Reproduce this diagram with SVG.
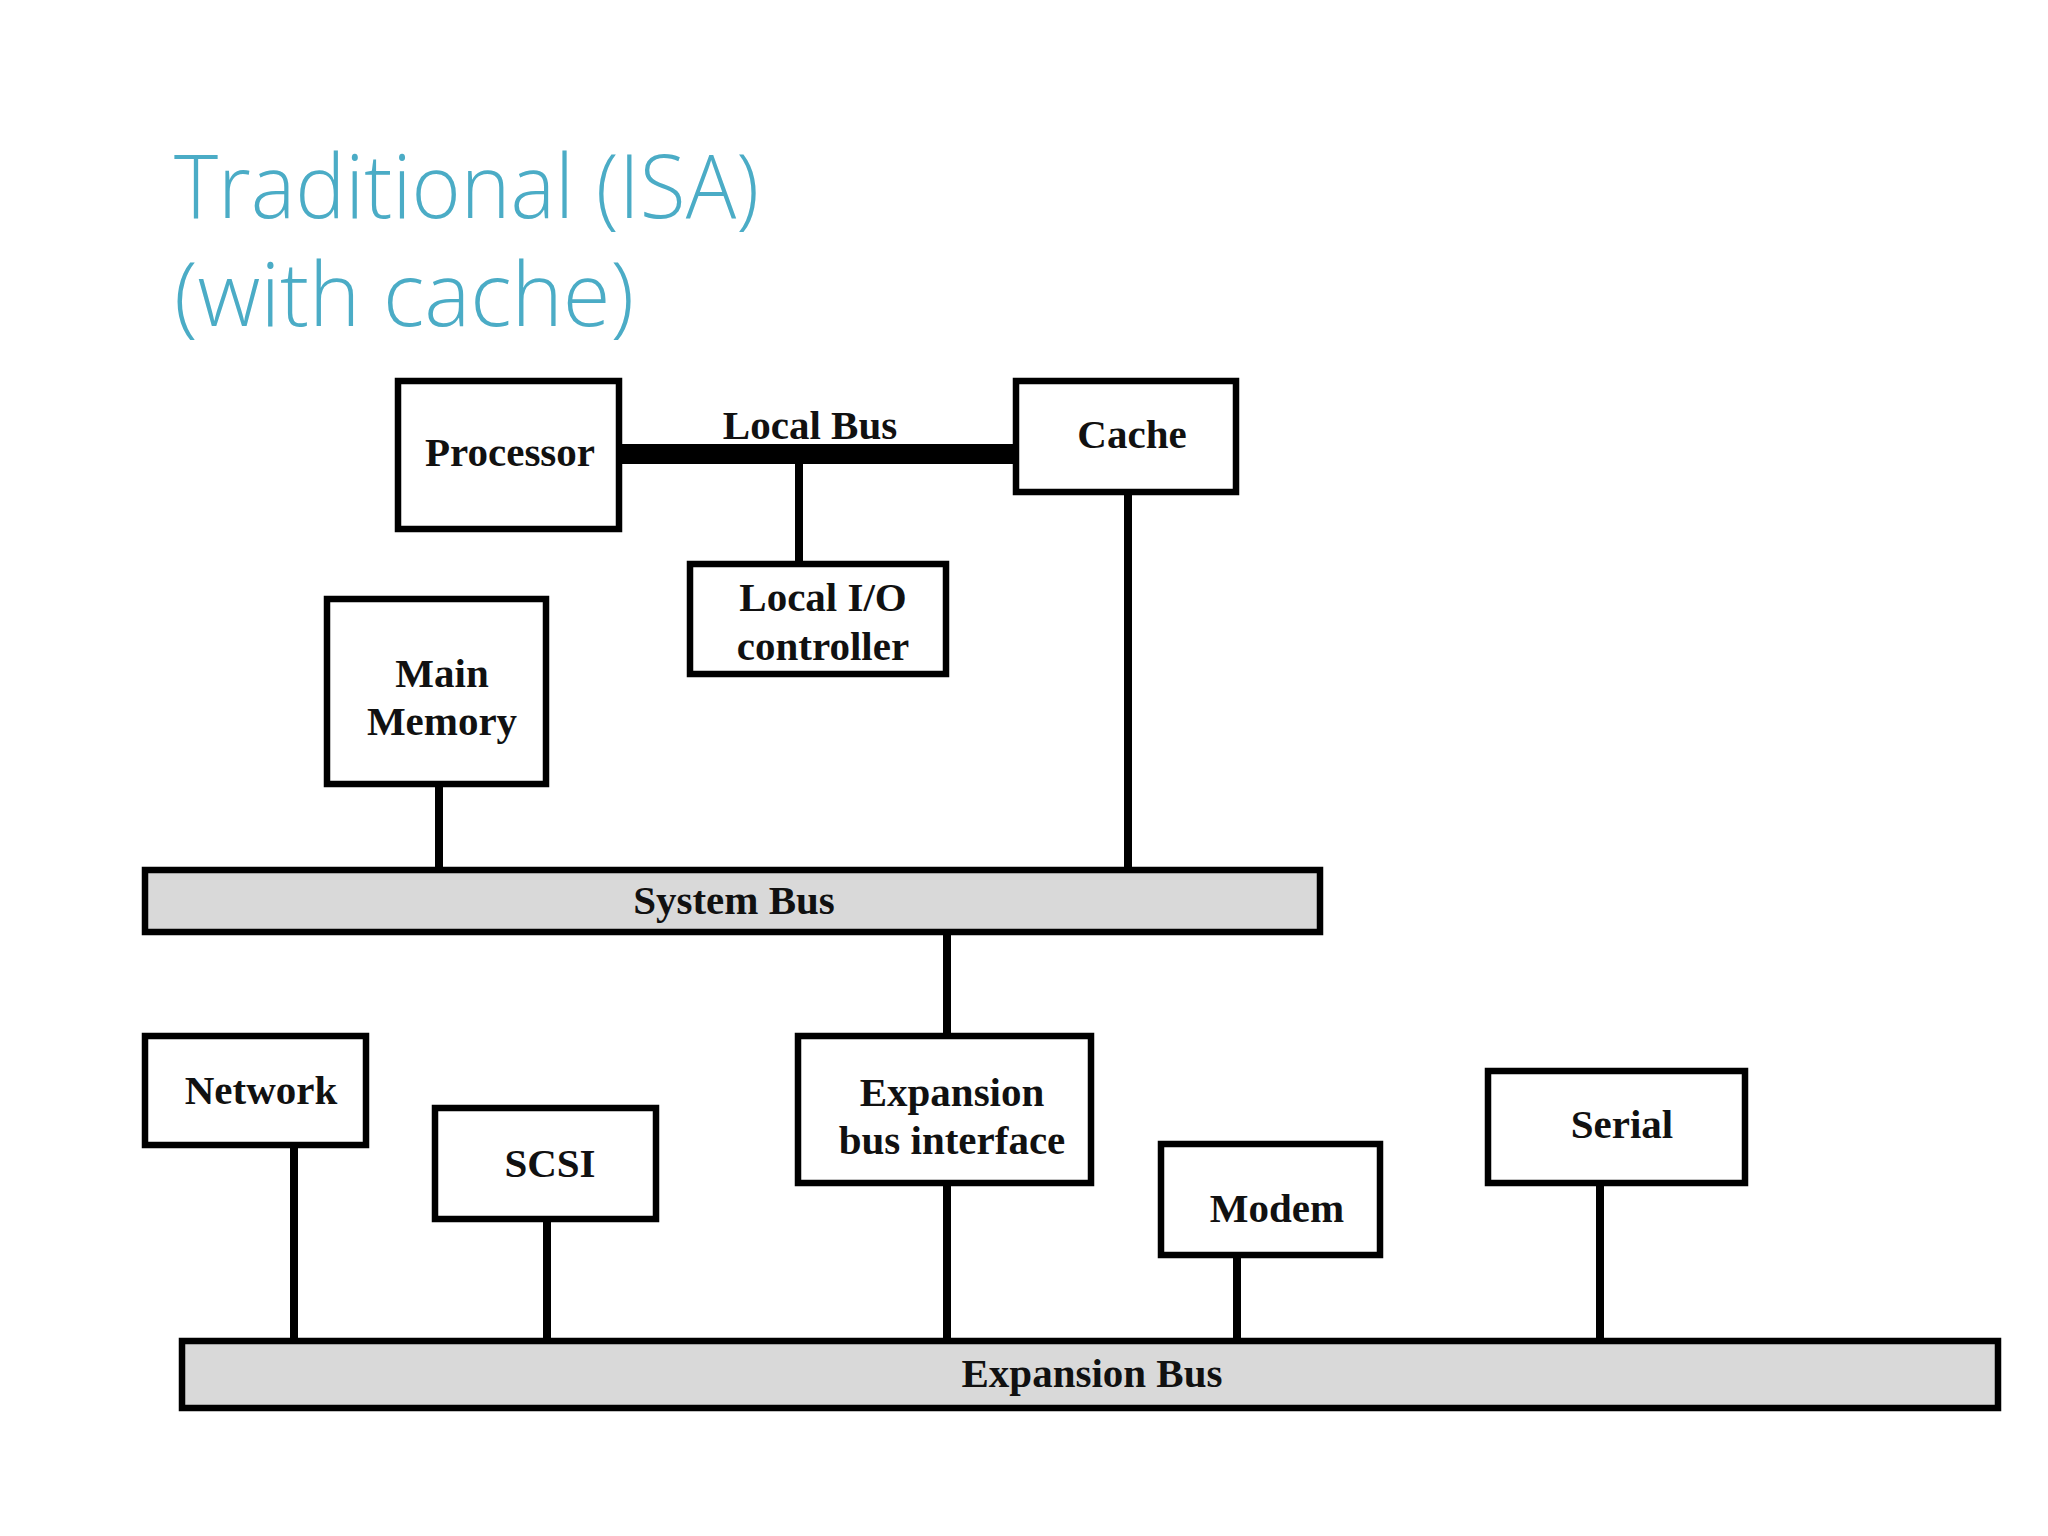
<svg xmlns="http://www.w3.org/2000/svg" width="2048" height="1536" viewBox="0 0 2048 1536">
<style>
.b{fill:#fff;stroke:#000;stroke-width:6.5}
.bus{fill:#d9d9d9;stroke:#000;stroke-width:6.5}
.t{font-family:"Liberation Serif",serif;font-weight:bold;font-size:41px;text-anchor:middle;fill:#111}
.ttl{font-family:"Open Sans","Noto Sans",sans-serif;font-weight:300;font-size:88px;fill:#4BACC6}
.c{stroke:#000;stroke-width:8;fill:none}
</style>
<rect width="2048" height="1536" fill="#fff"/>
<text class="ttl" x="174" y="218" textLength="585" lengthAdjust="spacingAndGlyphs">Traditional (ISA)</text>
<text class="ttl" x="174" y="326" textLength="460" lengthAdjust="spacingAndGlyphs">(with cache)</text>
<g id="connectors">
<line class="c" x1="619" y1="454" x2="1016" y2="454" style="stroke-width:20"/>
<line class="c" x1="799" y1="454" x2="799" y2="564"/>
<line class="c" x1="439" y1="784" x2="439" y2="870"/>
<line class="c" x1="1128" y1="492" x2="1128" y2="870"/>
<line class="c" x1="947" y1="932" x2="947" y2="1036"/>
<line class="c" x1="947" y1="1183" x2="947" y2="1341"/>
<line class="c" x1="294" y1="1145" x2="294" y2="1341"/>
<line class="c" x1="547" y1="1219" x2="547" y2="1341"/>
<line class="c" x1="1237" y1="1255" x2="1237" y2="1341"/>
<line class="c" x1="1600" y1="1183" x2="1600" y2="1341"/>
<text class="t" x="810" y="439">Local Bus</text>
</g>
<g id="processor"><rect class="b" x="398" y="381" width="221" height="148"/><text class="t" x="510" y="466">Processor</text></g>
<g id="cache"><rect class="b" x="1016" y="381" width="220" height="111"/><text class="t" x="1132" y="448">Cache</text></g>
<g id="localio"><rect class="b" x="690" y="564" width="256" height="110"/><text class="t" x="823" y="611">Local I/O</text><text class="t" x="823" y="660">controller</text></g>
<g id="mainmem"><rect class="b" x="327" y="599" width="219" height="185"/><text class="t" x="442" y="687">Main</text><text class="t" x="442" y="735">Memory</text></g>
<g id="systembus"><rect class="bus" x="145" y="870" width="1175" height="62"/><text class="t" x="734" y="914">System Bus</text></g>
<g id="ebi"><rect class="b" x="798" y="1036" width="293" height="147"/><text class="t" x="952" y="1106">Expansion</text><text class="t" x="952" y="1154">bus interface</text></g>
<g id="network"><rect class="b" x="145" y="1036" width="221" height="109"/><text class="t" x="261" y="1104">Network</text></g>
<g id="scsi"><rect class="b" x="435" y="1108" width="221" height="111"/><text class="t" x="550" y="1177">SCSI</text></g>
<g id="modem"><rect class="b" x="1161" y="1144" width="219" height="111"/><text class="t" x="1277" y="1222">Modem</text></g>
<g id="serial"><rect class="b" x="1488" y="1071" width="257" height="112"/><text class="t" x="1622" y="1138">Serial</text></g>
<g id="expbus"><rect class="bus" x="182" y="1341" width="1816" height="67"/><text class="t" x="1092" y="1387">Expansion Bus</text></g>
</svg>
